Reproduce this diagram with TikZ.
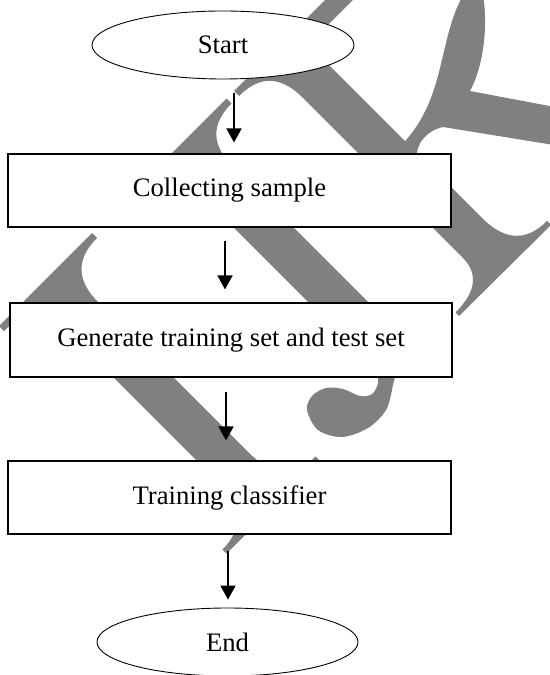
\documentclass[tikz,border=0pt]{standalone}
\usepackage{fontspec}
\setmainfont{Liberation Serif}
\usetikzlibrary{shapes.geometric,arrows.meta}
\definecolor{wm}{RGB}{128,128,128}
\begin{document}
\begin{tikzpicture}[x=0.45pt,y=-0.45pt,
  font=\fontsize{12}{14}\selectfont,
  stepbox/.style={draw, line width=0.5pt, fill=white, rectangle, inner sep=0pt, minimum width=199.35pt, minimum height=32.85pt},
  term/.style={draw, line width=0.4pt, fill=white, ellipse, inner sep=0pt, minimum width=117.9pt, minimum height=30.6pt},
  arr/.style={-{Triangle[width=6.75pt,length=6.3pt]}, line width=0.75pt}]
\useasboundingbox (0,0) rectangle (550,675);
% watermark
\begin{scope}
\clip (0,0) rectangle (550,675);
% R
\fill[wm] (234,91) -- (330,-5) -- (483,-5) .. controls (488,25) and (484,65) .. (470,91)
  -- (560,108) -- (560,146) -- (443,127) .. controls (426,131) and (418,143) .. (417,153)
  -- (482,218) .. controls (504.7,240.7) and (526.3,241.7) .. (547,221) -- (551,225)
  -- (459,316) -- (455.5,312.5) .. controls (476.2,291.8) and (478.5,273.5) .. (462.5,257.5)
  -- (302.5,97.5) .. controls (280.8,75.8) and (259.7,75.3) .. (239,96) -- cycle;
\fill[white] (358,-5) -- (463,-5) .. controls (438,40) and (446,95) .. (405,141) -- (308.5,44.5) -- cycle;
% J
\fill[wm] (134.5,190.5) -- (226.5,98.5) -- (231.5,103.5) .. controls (210.8,124.2) and (211.3,145.3) .. (233,167)
  -- (436,370) -- (376,370) -- (203,197) .. controls (181.3,175.3) and (160.2,174.8) .. (139.5,195.5) -- cycle;
\fill[wm] plot[smooth cycle, tension=0.55] coordinates {(378,365) (396,365) (393,385) (386,410) (368,428) (342,437) (318,430) (307,410) (312,396) (326,388) (343,389) (360,396) (372,394) (378,383)};
% I
\fill[wm] (-1,326) -- (92,233) -- (97,238) .. controls (76,259) and (76.3,280.3) .. (98,302)
  -- (248,452) .. controls (272,476) and (294.5,477.5) .. (315.5,456.5) -- (319.5,460.5)
  -- (226.5,553.5) -- (222.5,549.5) .. controls (243.5,528.5) and (242,506) .. (218,482)
  -- (68,332) .. controls (46.3,310.3) and (25,310) .. (4,331) -- cycle;
\end{scope}
% flowchart
\node[term] (start) at (223,45) {Start};
\node[stepbox] (b1) at (229.5,190.5) {Collecting sample};
\node[stepbox, minimum width=198.9pt, minimum height=33.3pt] (b2) at (231,340) {Generate training set and test set};
\node[stepbox] (b3) at (229.5,497.5) {Training classifier};
\node[term, minimum width=117.45pt] (end) at (227.5,642) {End};
\draw[arr, shorten <=6.3pt, shorten >=4.95pt] ([xshift=4.95pt]start.south) -- ([xshift=4.95pt]start.south |- b1.north);
\draw[arr, shorten <=5.85pt, shorten >=5.85pt] ([xshift=-2.025pt]b1.south) -- ([xshift=-2.025pt]b1.south |- b2.north);
\draw[arr, shorten <=6.3pt, shorten >=9pt] ([xshift=-2.25pt]b2.south) -- ([xshift=-2.25pt]b2.south |- b3.north);
\draw[arr, shorten <=7.2pt, shorten >=3.6pt] ([xshift=-0.675pt]b3.south) -- ([xshift=-0.675pt]b3.south |- end.north);
\end{tikzpicture}
\end{document}
